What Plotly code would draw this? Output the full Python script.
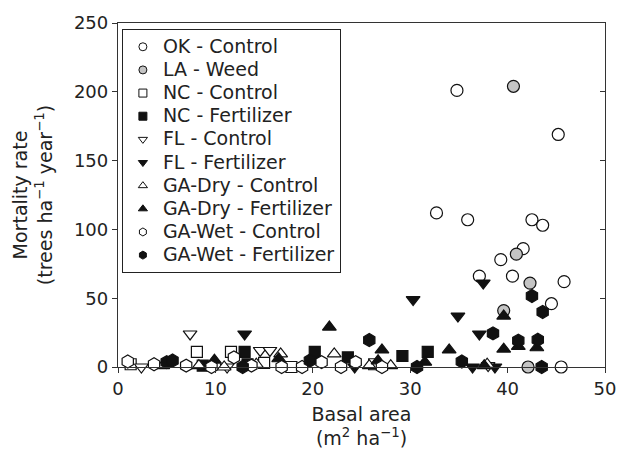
import plotly.graph_objects as go

# ---- data (basal area m2/ha, mortality trees/ha/yr) ----
ok_control_x = [34.8, 45.2, 32.7, 35.9, 42.5, 43.6, 41.6, 39.3, 37.1, 40.5, 45.8, 44.5, 45.5]
ok_control_y = [201, 169, 112, 107, 107, 103, 86, 78, 66, 66, 62, 46, 0]

la_weed_x = [40.6, 40.9, 42.3, 39.6, 42.1]
la_weed_y = [204, 82, 61, 41, 0]

nc_control_x = [1.3, 8.1, 11.6, 15.0, 17.8, 26.3]
nc_control_y = [2, 11, 11, 3, 0, 2]

nc_fert_x = [8.7, 13.0, 13.3, 20.2, 23.6, 29.2, 31.8]
nc_fert_y = [1, 11, 2, 11, 7, 8, 11]

fl_control_x = [2.4, 7.4, 11.2, 14.6, 15.6, 38.0]
fl_control_y = [0, 24, 0, 12, 12, 1]

fl_fert_x = [13.0, 24.3, 30.3, 34.9, 36.4, 37.1, 37.5, 38.7]
fl_fert_y = [24, 0, 49, 37, 0, 24, 61, 0]

gad_control_x = [4.6, 8.3, 10.9, 14.2, 16.7, 22.2, 25.8, 28.0, 37.9]
gad_control_y = [1, 1, 0, 2, 9.5, 9.5, 1, 1, 2]

gad_fert_x = [9.9, 16.5, 21.7, 26.7, 27.1, 31.5, 34.0, 37.6, 39.6, 39.6, 41.1, 43.0]
gad_fert_y = [5, 6, 29, 4.5, 12.4, 3.5, 12.4, 1, 13, 37, 15, 14]

gaw_control_x = [1.0, 3.7, 7.0, 9.6, 11.9, 13.7, 16.8, 18.9, 20.9, 22.9, 24.4, 27.1]
gaw_control_y = [4, 2, 1, 0, 7, 1, 0, 0, 3.5, 0, 3.5, 0]

gaw_fert_x = [5.0, 5.6, 12.8, 19.7, 25.8, 30.7, 35.3, 38.5, 41.1, 43.1, 43.5, 42.5, 43.6]
gaw_fert_y = [3.5, 4.7, 0, 4.7, 19.6, 0, 4, 24.4, 19.1, 19.8, 0, 51.6, 40]

x_ticks = [0, 10, 20, 30, 40, 50]
y_ticks = [0, 50, 100, 150, 200, 250]

series = [
    ("OK - Control", ok_control_x, ok_control_y, "circle", "white", 12),
    ("LA - Weed", la_weed_x, la_weed_y, "circle", "#c4c4c4", 12),
    ("NC - Control", nc_control_x, nc_control_y, "square", "white", 11),
    ("NC - Fertilizer", nc_fert_x, nc_fert_y, "square", "#111111", 11),
    ("FL - Control", fl_control_x, fl_control_y, "triangle-down", "white", 12),
    ("FL - Fertilizer", fl_fert_x, fl_fert_y, "triangle-down", "#111111", 12),
    ("GA-Dry - Control", gad_control_x, gad_control_y, "triangle-up", "white", 12),
    ("GA-Dry - Fertilizer", gad_fert_x, gad_fert_y, "triangle-up", "#111111", 12),
    ("GA-Wet - Control", gaw_control_x, gaw_control_y, "hexagon", "white", 13),
    ("GA-Wet - Fertilizer", gaw_fert_x, gaw_fert_y, "hexagon", "#111111", 13),
]

fig = go.Figure()
for name, xs, ys, sym, fill, size in series:
    fig.add_trace(go.Scatter(
        x=xs, y=ys, mode="markers", name=name, showlegend=False,
        cliponaxis=False,
        marker=dict(symbol=sym, color=fill, size=size,
                    line=dict(color="#111111", width=1.2)),
    ))
for name, xs, ys, sym, fill, size in series:
    fig.add_trace(go.Scatter(
        x=[None], y=[None], mode="markers",
        name='<span style="font-size:19px">' + name + '</span>', showlegend=True,
        marker=dict(symbol=sym, color=fill, size=8,
                    line=dict(color="#111111", width=1)),
    ))
# right-side axis carrying the inward ticks
fig.add_trace(go.Scatter(x=[None], y=[None], yaxis="y2", showlegend=False))

font_family = "DejaVu Sans, Liberation Sans, Arial, sans-serif"
fig.update_layout(
    width=628, height=461,
    margin=dict(l=118, r=15, t=20, b=94),
    paper_bgcolor="white", plot_bgcolor="white",
    font=dict(family=font_family, size=18, color="#222222"),
    xaxis=dict(
        range=[0, 50], tickvals=x_ticks, ticks="outside", ticklen=5,
        tickcolor="#333333", showline=True, linecolor="#333333", linewidth=1.3,
        mirror=True, showgrid=False, zeroline=False,
        title=dict(text="Basal area<br>(m<sup>2</sup> ha<sup>−1</sup>)", standoff=9,
                   font=dict(size=19)),
        tickfont=dict(size=18),
    ),
    yaxis=dict(
        range=[0, 250], tickvals=y_ticks, ticks="outside", ticklen=5,
        tickcolor="#333333", showline=True, linecolor="#333333", linewidth=1.3,
        showgrid=False, zeroline=False,
        title=dict(text="Mortality rate<br>(trees ha<sup>−1</sup> year<sup>−1</sup>)",
                   standoff=16, font=dict(size=19)),
        tickfont=dict(size=18),
    ),
    yaxis2=dict(
        range=[0, 250], tickvals=y_ticks, ticks="inside", ticklen=5,
        tickcolor="#333333", showline=True, linecolor="#333333", linewidth=1.3,
        overlaying="y", side="right", showticklabels=False,
        showgrid=False, zeroline=False,
    ),
    legend=dict(
        x=0.008, y=0.982, xanchor="left", yanchor="top",
        bordercolor="#222222", borderwidth=1, bgcolor="white",
        font=dict(size=15.5, color="#222222"), itemwidth=30,
        tracegroupgap=0, traceorder="normal",
    ),
)

fig.write_html("out.html")
